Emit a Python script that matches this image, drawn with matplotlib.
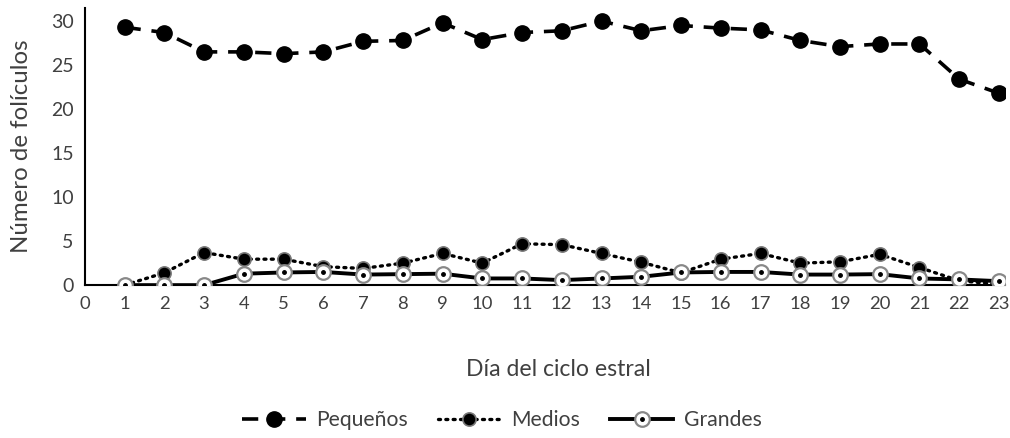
import matplotlib
matplotlib.use("Agg")
import matplotlib.pyplot as plt
from matplotlib.legend_handler import HandlerTuple

dias = list(range(1, 24))
pequenos = [29.3, 28.7, 26.5, 26.5, 26.3, 26.5, 27.7, 27.8, 29.8, 27.9, 28.7, 28.9,
            30.0, 28.9, 29.5, 29.2, 29.0, 27.8, 27.1, 27.4, 27.4, 23.4, 21.8]
medios = [0.0, 1.4, 3.7, 2.95, 2.95, 2.1, 1.9, 2.5, 3.6, 2.5, 4.7, 4.6,
          3.6, 2.6, 1.4, 2.95, 3.6, 2.5, 2.65, 3.5, 2.0, 0.5, 0.1]
grandes = [0.0, 0.0, 0.0, 1.3, 1.44, 1.5, 1.2, 1.25, 1.3, 0.76, 0.76, 0.57,
           0.76, 0.95, 1.44, 1.5, 1.5, 1.2, 1.2, 1.25, 0.76, 0.65, 0.45]
xticks = list(range(0, 24))
yticks = [0, 5, 10, 15, 20, 25, 30]

plt.rcParams['font.family'] = ['Lato', 'DejaVu Sans']
txt = '#404040'

fig = plt.figure(figsize=(10.1, 4.38), dpi=100)
ax = fig.add_axes([0.084, 0.349, 0.911, 0.633])

lp, = ax.plot(dias, pequenos, color='black', lw=2.6, ls=(0, (4.5, 3)),
              marker='o', ms=11, mfc='black', mec='black', zorder=3)
lm, = ax.plot(dias, medios, color='black', lw=2.4, ls=(0, (0.6, 1.6)),
              dash_capstyle='round', marker='o', ms=9.5, mfc='black', mec='#777777',
              mew=1.2, zorder=4)
lg, = ax.plot(dias, grandes, color='black', lw=2.8, ls='-',
              marker='o', ms=10.5, mfc='white', mec='#888888', mew=1.6, zorder=5)
ld, = ax.plot(dias, grandes, ls='none', marker='o', ms=2.5, mfc='black',
              mec='black', zorder=6)

ax.set_xlim(0, 23.15)
ax.set_ylim(0, 31.5)
ax.set_xticks(xticks)
ax.set_yticks(yticks)
ax.tick_params(axis='y', length=0, labelsize=14, colors=txt, pad=8)
ax.tick_params(axis='x', length=0, labelsize=13.3, colors=txt, pad=8)
for s in ['top', 'right']:
    ax.spines[s].set_visible(False)
for s in ['left', 'bottom']:
    ax.spines[s].set_color('black')
    ax.spines[s].set_linewidth(1.5)

ax.set_xlabel('Día del ciclo estral', fontsize=16.6, color=txt)
ax.xaxis.set_label_coords(0.515, -0.265)
ax.set_ylabel('Número de folículos', fontsize=17.3, color=txt)
ax.yaxis.set_label_coords(-0.057, 0.5)

fig.legend([lp, lm, (lg, ld)], ['Pequeños', 'Medios', 'Grandes'],
           handler_map={tuple: HandlerTuple(ndivide=1, pad=0)},
           loc='center', bbox_to_anchor=(0.497, 0.04), ncol=3, frameon=False,
           fontsize=15.2, handlelength=3.0, columnspacing=1.4, handletextpad=0.5,
           labelcolor=txt)

fig.savefig('out.png', dpi=100)
